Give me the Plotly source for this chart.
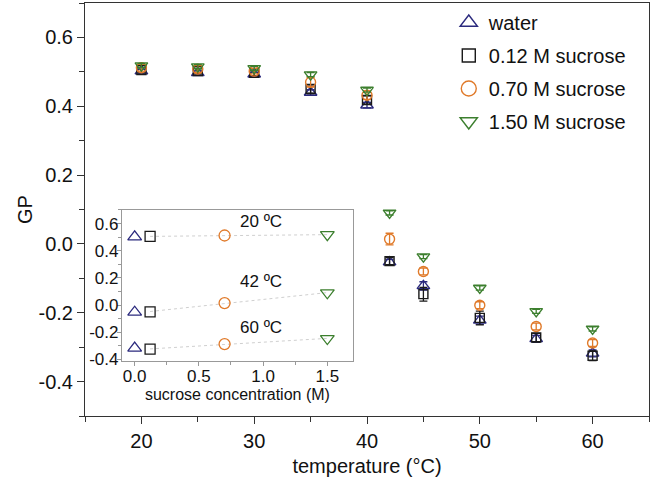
import numpy as np
import plotly.graph_objects as go

# ---------------- data ----------------
temperature = [20, 25, 30, 35, 40, 42, 45, 50, 55, 60]
gp_water = [0.502, 0.497, 0.493, 0.440, 0.403, -0.053, -0.122, -0.222, -0.276, -0.318]
gp_012 = [0.505, 0.502, 0.497, 0.450, 0.418, -0.050, -0.146, -0.215, -0.272, -0.325]
gp_070 = [0.512, 0.508, 0.502, 0.470, 0.432, 0.014, -0.080, -0.178, -0.240, -0.288]
gp_150 = [0.518, 0.515, 0.510, 0.492, 0.447, 0.090, -0.037, -0.128, -0.196, -0.247]
err_water = [0.006, 0.006, 0.006, 0.008, 0.008, 0.008, 0.012, 0.012, 0.010, 0.010]
err_012 = [0.008, 0.008, 0.008, 0.012, 0.012, 0.010, 0.020, 0.020, 0.012, 0.014]
err_070 = [0.010, 0.010, 0.008, 0.014, 0.012, 0.017, 0.010, 0.010, 0.010, 0.010]
err_150 = [0.006, 0.006, 0.006, 0.006, 0.006, 0.006, 0.006, 0.006, 0.006, 0.006]

series_names = ["water", "0.12 M sucrose", "0.70 M sucrose", "1.50 M sucrose"]
sucrose_conc = [0.0, 0.12, 0.70, 1.50]
inset_temps = [20, 42, 60]
inset_labels = ["20 ºC", "42 ºC", "60 ºC"]

y_tickvals = [-0.4, -0.2, 0.0, 0.2, 0.4, 0.6]
y_ticktext = ["-0.4", "-0.2", "0.0", "0.2", "0.4", "0.6"]
x_tickvals = [20, 30, 40, 50, 60]
inset_x_tickvals = [0.0, 0.5, 1.0, 1.5]
inset_x_ticktext = ["0.0", "0.5", "1.0", "1.5"]

# ---------------- styles ----------------
FONT = "Arial, Liberation Sans, sans-serif"
colors = ["#2B2A7E", "#1a1a1a", "#E07A2A", "#3C7F2E"]
symbols = ["triangle-up-open", "square-open", "circle-open", "triangle-down-open"]
msizes = [11, 9, 10, 11]
all_gp = [gp_water, gp_012, gp_070, gp_150]
all_err = [err_water, err_012, err_070, err_150]

fig = go.Figure()

# main data
for name, gp, err, c, s, ms in zip(series_names, all_gp, all_err, colors, symbols, msizes):
    fig.add_trace(go.Scatter(
        x=temperature, y=gp, mode="markers", name=name, showlegend=False,
        marker=dict(symbol=s, size=ms, color=c, line=dict(width=1.4, color=c)),
        error_y=dict(type="data", array=err, color=c, thickness=1.3, width=4),
        xaxis="x", yaxis="y",
    ))

# legend entries (larger symbols)
for i, (name, c, s) in enumerate(zip(series_names, colors, symbols)):
    fig.add_trace(go.Scatter(
        x=[None], y=[None], mode="markers", name=name, legendgroup=name,
        marker=dict(symbol=s, size=15 if i != 1 else 13, color=c, line=dict(width=1.4, color=c)),
        xaxis="x", yaxis="y",
    ))

# inset: fit lines through sucrose points
for T in inset_temps:
    idx = temperature.index(T)
    xs = np.array(sucrose_conc[1:])
    ys = np.array([all_gp[k][idx] for k in range(1, 4)])
    p = np.polyfit(xs, ys, 1)
    xl = np.array([sucrose_conc[1], sucrose_conc[3]])
    fig.add_trace(go.Scatter(
        x=xl, y=np.polyval(p, xl), mode="lines", showlegend=False,
        line=dict(color="#cfcfcf", width=1, dash="dot"), xaxis="x2", yaxis="y2",
    ))

# inset markers
for k in range(4):
    ys = [all_gp[k][temperature.index(T)] for T in inset_temps]
    fig.add_trace(go.Scatter(
        x=[sucrose_conc[k]] * len(inset_temps), y=ys, mode="markers", showlegend=False,
        marker=dict(symbol=symbols[k], size=msizes[k] + 1, color=colors[k],
                    line=dict(width=1.3, color=colors[k])),
        xaxis="x2", yaxis="y2",
    ))

for T, lab, ty in zip(inset_temps, inset_labels, [0.615, 0.175, -0.165]):
    fig.add_annotation(x=0.98, y=ty, xref="x2", yref="y2", text=lab, showarrow=False,
                       font=dict(family=FONT, size=17, color="#111"))

axis_common = dict(showgrid=False, zeroline=False, ticks="outside", automargin=False,
                   tickfont=dict(family=FONT, size=20, color="#111"))

fig.update_layout(
    template="none",
    width=650, height=488,
    margin=dict(l=85, r=1, t=3, b=72, pad=0),
    paper_bgcolor="white", plot_bgcolor="white",
    font=dict(family=FONT, color="#111"),
    xaxis=dict(range=[15, 65], tickvals=x_tickvals, ticklen=7, tickwidth=1, tickcolor="#333",
               showline=True, linecolor="#333", linewidth=1, mirror=True,
               minor=dict(dtick=5, tick0=15, ticklen=5, tickcolor="#333", ticks="outside"),
               title=dict(text="temperature (°C)", font=dict(family=FONT, size=20), standoff=7),
               **axis_common),
    yaxis=dict(range=[-0.5, 0.7], tickvals=y_tickvals, ticktext=y_ticktext, ticklen=7,
               tickwidth=1, tickcolor="#333",
               showline=True, linecolor="#333", linewidth=1, mirror=True,
               minor=dict(dtick=0.1, tick0=0, ticklen=5, tickcolor="#333", ticks="outside"),
               title=dict(text="GP", font=dict(family=FONT, size=20), standoff=0),
               **axis_common),
    xaxis2=dict(domain=[0.0653, 0.4752], anchor="y2", range=[-0.1, 1.7], automargin=False,
                tickvals=inset_x_tickvals, ticktext=inset_x_ticktext, ticklabelstandoff=-4,
                showgrid=False, zeroline=False, ticks="outside", ticklen=4, tickcolor="#999",
                showline=True, linecolor="#999", linewidth=1, mirror=True,
                minor=dict(dtick=0.25, tick0=0, ticklen=3, tickcolor="#999", ticks="outside"),
                tickfont=dict(family=FONT, size=17, color="#111"),
                title=dict(text="sucrose concentration (M)", font=dict(family=FONT, size=16), standoff=1)),
    yaxis2=dict(domain=[0.134, 0.4988], anchor="x2", range=[-0.41, 0.70], automargin=False,
                tickvals=y_tickvals, ticktext=y_ticktext, ticklabelstandoff=-5,
                showgrid=False, zeroline=False, ticks="outside", ticklen=4, tickcolor="#999",
                showline=True, linecolor="#999", linewidth=1, mirror=True,
                minor=dict(dtick=0.1, tick0=0, ticklen=3, tickcolor="#999", ticks="outside"),
                tickfont=dict(family=FONT, size=17, color="#111")),
    legend=dict(x=0.645, y=1.0, xanchor="left", yanchor="top", bgcolor="rgba(0,0,0,0)",
                font=dict(family=FONT, size=20, color="#111"), tracegroupgap=4,
                itemwidth=30),
)

fig.write_html("out.html", config={"displayModeBar": False},
               post_script="document.body.style.margin='0';document.body.style.overflow='hidden';")
